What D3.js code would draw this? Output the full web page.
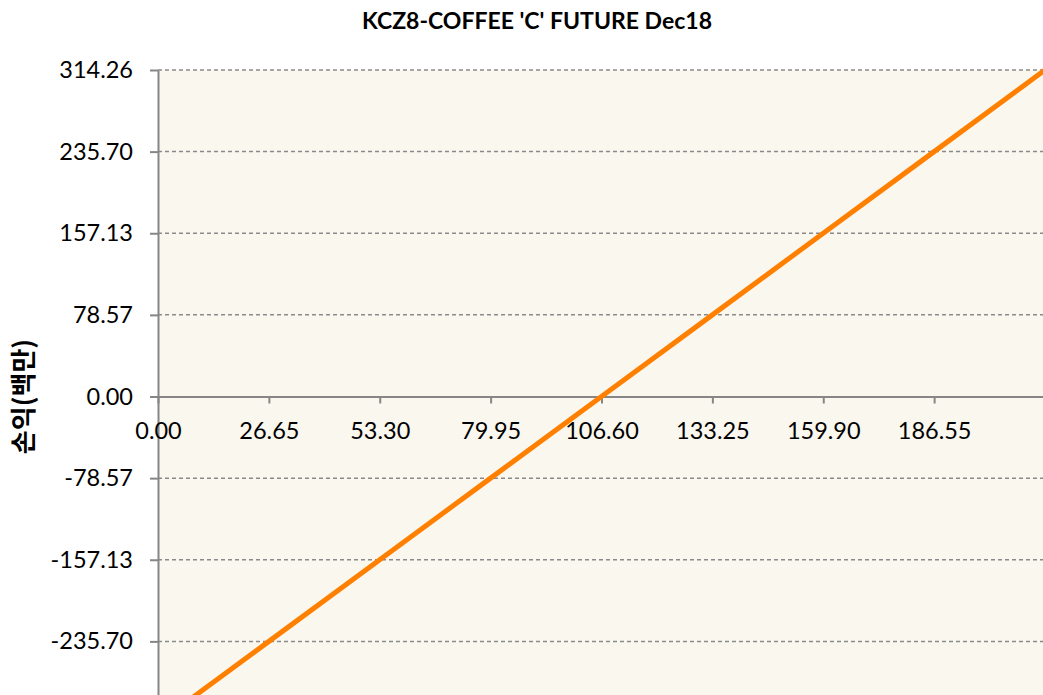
<!DOCTYPE html>
<html>
<head>
<meta charset="utf-8">
<script src="https://cdn.jsdelivr.net/npm/d3@7"></script>
<style>
  html, body { margin: 0; padding: 0; background: #ffffff; }
  svg { display: block; }
  .tick text { font-family: Lato, "Noto Sans CJK KR", sans-serif; fill: #000; }
</style>
</head>
<body>
<script>
// Futures position payoff: underlying price vs. profit/loss (millions)
const title = "KCZ8-COFFEE 'C' FUTURE Dec18";
const yTitle = "손익(백만)";

const prices = [0.00, 26.65, 53.30, 79.95, 106.60, 133.25, 159.90, 186.55, 213.20];
const pnl = [-314.26, -235.70, -157.13, -78.57, 0.00, 78.57, 157.13, 235.70, 314.26];

const xTickValues = [0.00, 26.65, 53.30, 79.95, 106.60, 133.25, 159.90, 186.55];
const yTickValues = [314.26, 235.70, 157.13, 78.57, 0.00, -78.57, -157.13, -235.70];

const W = 1043, H = 695;
const plot = { left: 158, top: 70, right: 1045, bottom: 723 };

const svg = d3.select("body").append("svg")
  .attr("width", W).attr("height", H);

const x = d3.scaleLinear().domain([0, 213.20]).range([plot.left, plot.right]);
const y = d3.scaleLinear().domain([-314.26, 314.26]).range([plot.bottom, plot.top]);

const axisColor = "#868686";

// plot background
svg.append("rect")
  .attr("x", plot.left).attr("y", plot.top)
  .attr("width", plot.right - plot.left).attr("height", plot.bottom - plot.top)
  .attr("fill", "#faf7ef");

// dashed horizontal gridlines
svg.append("g").selectAll("line")
  .data(yTickValues.filter(v => v !== 0))
  .join("line")
  .attr("x1", plot.left).attr("x2", plot.right)
  .attr("y1", d => y(d)).attr("y2", d => y(d))
  .attr("stroke", "#8a8a8a")
  .attr("stroke-width", 1.5)
  .attr("stroke-dasharray", "4,3");

// two-decimal labels with a plain hyphen for negatives
const f2 = d3.format(".2f");
const fmt = v => f2(v).replace("\u2212", "-");

// y axis
const gy = svg.append("g")
  .attr("transform", `translate(${plot.left},0)`)
  .call(d3.axisLeft(y).tickValues(yTickValues).tickFormat(fmt)
    .tickSize(8).tickSizeOuter(0).tickPadding(17));
gy.select(".domain").attr("stroke", axisColor).attr("stroke-width", 2);
gy.selectAll(".tick line").attr("stroke", axisColor).attr("stroke-width", 2);
gy.selectAll(".tick text").attr("font-size", 23.5);

// x axis through zero
const gx = svg.append("g")
  .attr("transform", `translate(0,${y(0)})`)
  .call(d3.axisBottom(x).tickValues(xTickValues).tickFormat(fmt)
    .tickSize(7).tickSizeOuter(0).tickPadding(19));
gx.select(".domain").attr("stroke", axisColor).attr("stroke-width", 2);
gx.selectAll(".tick line").attr("stroke", axisColor).attr("stroke-width", 2);
gx.selectAll(".tick text").attr("font-size", 23.5);

// payoff line
const line = d3.line().x((d, i) => x(prices[i])).y(d => y(d));
svg.append("path")
  .datum(pnl)
  .attr("d", line)
  .attr("fill", "none")
  .attr("stroke", "#ff8000")
  .attr("stroke-width", 5);

// title
svg.append("text")
  .attr("x", 537).attr("y", 29)
  .attr("text-anchor", "middle")
  .attr("font-family", "Lato, sans-serif")
  .attr("font-weight", "bold")
  .attr("font-size", 23)
  .text(title);

// y axis title
svg.append("text")
  .attr("transform", `translate(33,${y(0)}) rotate(-90)`)
  .attr("text-anchor", "middle")
  .attr("font-family", "'Noto Sans CJK KR', sans-serif")
  .attr("font-weight", "bold")
  .attr("font-size", 26)
  .text(yTitle);
</script>
</body>
</html>
